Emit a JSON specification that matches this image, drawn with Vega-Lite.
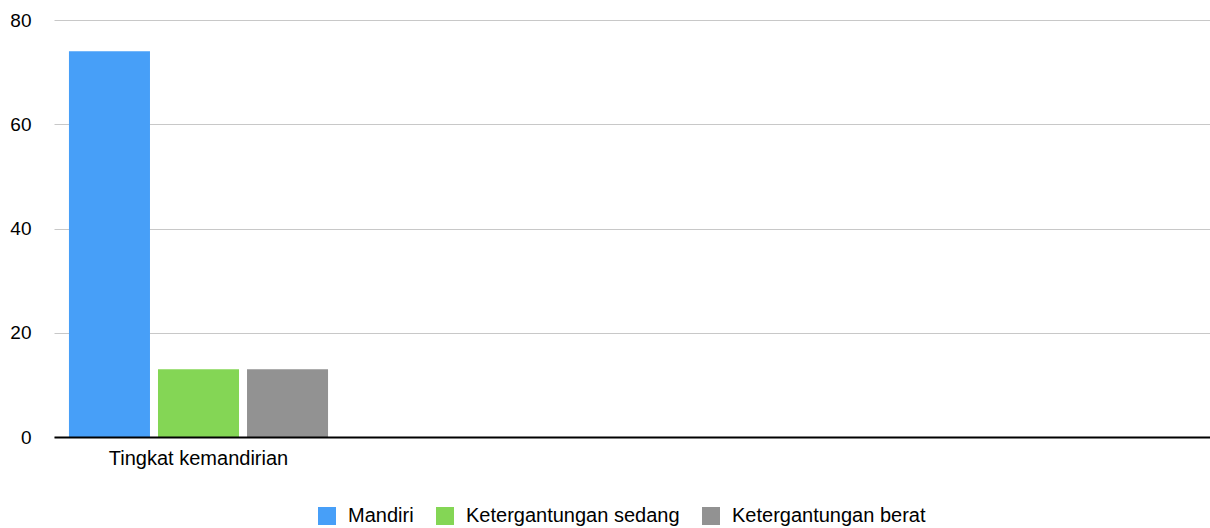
{
  "$schema": "https://vega.github.io/schema/vega-lite/v6.json",
  "autosize": {"type": "none"},
  "padding": {"left": 54, "top": 20, "right": 0, "bottom": 91},
  "width": 1156,
  "height": 417,
  "background": "white",
  "config": {
    "view": {"stroke": null},
    "font": "Liberation Sans"
  },
  "data": {
    "values": [
      {"kategori": "Tingkat kemandirian", "status": "Mandiri", "nilai": 74},
      {"kategori": "Tingkat kemandirian", "status": "Ketergantungan sedang", "nilai": 13},
      {"kategori": "Tingkat kemandirian", "status": "Ketergantungan berat", "nilai": 13}
    ]
  },
  "mark": {"type": "bar"},
  "encoding": {
    "x": {
      "field": "kategori",
      "type": "nominal",
      "scale": {"domain": ["Tingkat kemandirian", "k2", "k3", "k4"], "paddingInner": 0, "paddingOuter": 0},
      "axis": {
        "title": null,
        "labelAngle": 0,
        "labelExpr": "datum.value == 'Tingkat kemandirian' ? datum.value : ''",
        "labelFontSize": 20,
        "labelLimit": 400,
        "labelColor": "#000000",
        "labelPadding": 11,
        "ticks": false,
        "domainColor": "#000000",
        "domainWidth": 2,
        "grid": false,
        "zindex": 1
      }
    },
    "xOffset": {
      "field": "status",
      "type": "nominal",
      "sort": ["Mandiri", "Ketergantungan sedang", "Ketergantungan berat"],
      "scale": {"paddingInner": 0.09, "paddingOuter": 0.168}
    },
    "y": {
      "field": "nilai",
      "type": "quantitative",
      "scale": {"domain": [0, 80]},
      "axis": {
        "title": null,
        "values": [0, 20, 40, 60, 80],
        "domain": false,
        "ticks": false,
        "labelFontSize": 19,
        "labelColor": "#000000",
        "labelPadding": 23,
        "gridColor": "#c8c8c8",
        "gridWidth": 1
      }
    },
    "color": {
      "field": "status",
      "type": "nominal",
      "sort": ["Mandiri", "Ketergantungan sedang", "Ketergantungan berat"],
      "scale": {
        "domain": ["Mandiri", "Ketergantungan sedang", "Ketergantungan berat"],
        "range": ["#479ff8", "#84d655", "#929292"]
      },
      "legend": {
        "title": null,
        "orient": "none",
        "direction": "horizontal",
        "legendX": 263,
        "legendY": 486,
        "symbolType": "square",
        "symbolSize": 324,
        "symbolStrokeWidth": 0,
        "symbolOpacity": 1,
        "labelFontSize": 20,
        "labelLimit": 400,
        "labelColor": "#000000",
        "labelOffset": 11,
        "columnPadding": 21,
        "padding": 0
      }
    }
  }
}
